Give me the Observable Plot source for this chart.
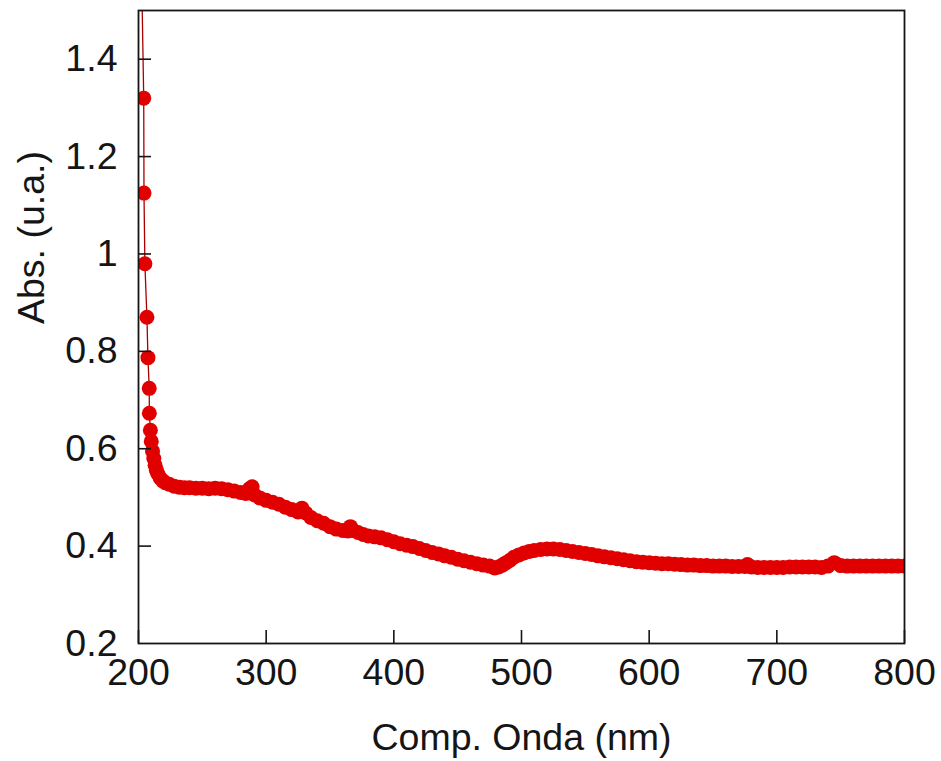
<!DOCTYPE html>
<html>
<head>
<meta charset="utf-8">
<script src="https://cdn.jsdelivr.net/npm/d3@7"></script>
<script src="https://cdn.jsdelivr.net/npm/@observablehq/plot@0.6"></script>
<style>
  html, body { margin: 0; padding: 0; background: #fff; }
</style>
</head>
<body>
<div id="chart"></div>
<script>
const wavelength = [
  202.6, 204.1, 204.3, 205.0, 206.6, 207.4, 208.4, 208.5, 209.3, 210, 211, 212, 213, 214, 215, 217, 219, 221, 224, 228,
  232, 236, 240, 245, 250, 255, 260, 265, 270, 275, 280, 284, 287, 289, 291, 295, 300, 305, 310, 315,
  320, 325, 328, 331, 335, 340, 345, 350, 355, 360, 364, 366, 368, 372, 376, 380, 385, 390, 395, 400,
  405, 410, 415, 420, 425, 430, 435, 440, 445, 450, 455, 460, 465, 470, 475, 479, 482, 485, 488, 491,
  494, 498, 502, 506, 510, 515, 520, 525, 530, 535, 540, 545, 550, 555, 560, 565, 570, 575, 580, 585,
  590, 595, 600, 605, 610, 615, 620, 625, 630, 635, 640, 645, 650, 655, 660, 665, 670, 675, 677, 680,
  685, 690, 695, 700, 705, 710, 715, 720, 725, 730, 735, 740, 745, 750, 755, 760, 765, 770, 775, 780,
  785, 790, 795, 800
];
const absorbance = [
  1.55, 1.32, 1.125, 0.98, 0.87, 0.787, 0.724, 0.673, 0.638, 0.615, 0.595, 0.58, 0.566, 0.556, 0.549, 0.54, 0.534, 0.53, 0.527, 0.523,
  0.521, 0.52, 0.52, 0.519, 0.519, 0.518, 0.519, 0.518, 0.516, 0.513, 0.51, 0.508, 0.518, 0.522, 0.505, 0.499, 0.494, 0.49, 0.486, 0.48,
  0.475, 0.47, 0.478, 0.468, 0.459, 0.452, 0.447, 0.44, 0.435, 0.432, 0.431, 0.44, 0.432, 0.428, 0.424, 0.421, 0.419, 0.417, 0.413, 0.409,
  0.405, 0.402, 0.399, 0.395, 0.391, 0.387, 0.384, 0.38, 0.377, 0.373, 0.37, 0.367, 0.364, 0.361, 0.359, 0.355, 0.357, 0.361, 0.366, 0.371,
  0.377, 0.382, 0.386, 0.389, 0.391, 0.393, 0.394, 0.394, 0.393, 0.391, 0.389, 0.387, 0.385, 0.383, 0.38, 0.378, 0.376, 0.374, 0.372, 0.37,
  0.368, 0.367, 0.366, 0.365, 0.364, 0.364, 0.363, 0.362, 0.361, 0.361, 0.36, 0.36, 0.359, 0.359, 0.359, 0.358, 0.358, 0.358, 0.362, 0.357,
  0.356, 0.356, 0.356, 0.356, 0.356, 0.357, 0.357, 0.357, 0.357, 0.357, 0.356, 0.359, 0.366, 0.36, 0.359, 0.359, 0.359, 0.359, 0.359, 0.359,
  0.359, 0.359, 0.359, 0.359
];
const xTicks = [200, 300, 400, 500, 600, 700, 800];
const yTicks = [0.2, 0.4, 0.6, 0.8, 1, 1.2, 1.4];
const xLabel = "Comp. Onda (nm)";
const yLabel = "Abs. (u.a.)";

const data = wavelength.map((w, i) => ({w, a: absorbance[i]}));

const W = 941, H = 761;
const mL = 138, mR = 37, mT = 10, mB = 118;
const innerW = W - mL - mR, innerH = H - mT - mB;
const tickLen = 13;
const FS = 37.5;

const chart = Plot.plot({
  width: W,
  height: H,
  marginLeft: mL,
  marginRight: mR,
  marginTop: mT,
  marginBottom: mB,
  style: {
    fontFamily: "'Liberation Sans', Arial, sans-serif",
    fontSize: FS + "px",
    color: "#151515",
    background: "#fff",
    overflow: "visible"
  },
  x: {domain: [200, 800]},
  y: {domain: [0.2, 1.5]},
  marks: [
    Plot.line(data, {x: "w", y: "a", stroke: "#a80000", strokeWidth: 1.3, clip: true}),
    Plot.dot(data, {x: "w", y: "a", r: 7.5, fill: "#e00000", stroke: "none", clip: true}),
    Plot.frame({stroke: "#151515", strokeWidth: 1.8}),
    Plot.tickX(xTicks, {x: d => d, insetTop: innerH - tickLen, stroke: "#151515", strokeWidth: 1.6}),
    Plot.tickY(yTicks.filter(d => d > 0.2), {y: d => d, insetRight: innerW - tickLen, stroke: "#151515", strokeWidth: 1.6}),
    Plot.axisX(xTicks, {tickSize: 0, tickPadding: 15, fontSize: FS, label: null, tickFormat: d => String(d)}),
    Plot.axisY(yTicks, {tickSize: 0, tickPadding: 21, fontSize: FS, label: null, tickFormat: d => String(d)}),
    Plot.text([xLabel], {frameAnchor: "bottom", dy: 94, fontSize: FS, fill: "#151515", lineAnchor: "middle"}),
    Plot.text([yLabel], {frameAnchor: "left", dx: -107, dy: -3, rotate: -90, fontSize: FS, fill: "#151515", lineAnchor: "middle"})
  ]
});
document.getElementById("chart").appendChild(chart);
</script>
</body>
</html>
